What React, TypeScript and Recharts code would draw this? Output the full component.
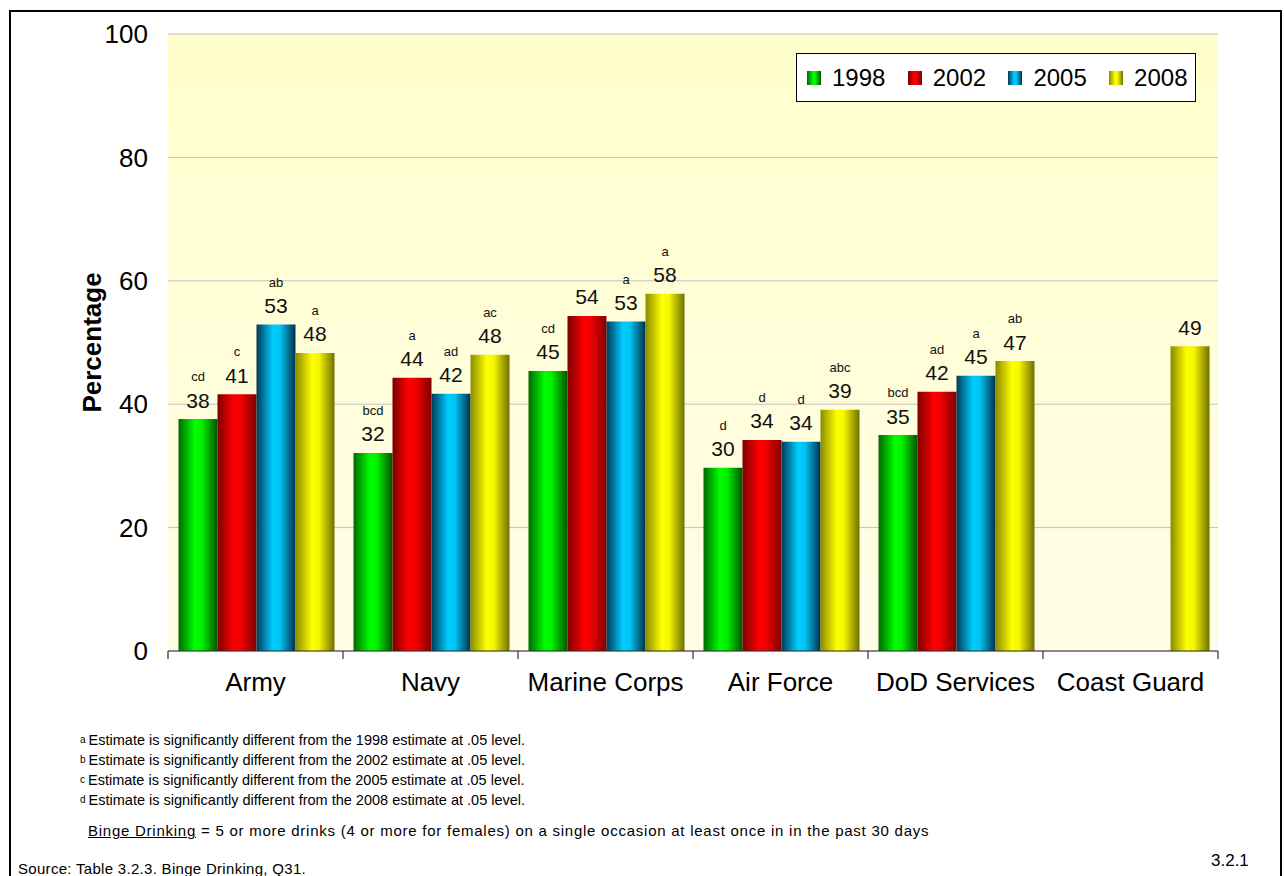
import React from 'react';
import { BarChart, Bar, XAxis, YAxis, CartesianGrid, LabelList, Legend } from 'recharts';

const categories = ['Army', 'Navy', 'Marine Corps', 'Air Force', 'DoD Services', 'Coast Guard'];
const years = ['1998', '2002', '2005', '2008'];

const values1998 = [37.6, 32.1, 45.4, 29.7, 35.0, null];
const values2002 = [41.6, 44.3, 54.3, 34.2, 42.0, null];
const values2005 = [52.9, 41.7, 53.4, 33.9, 44.6, null];
const values2008 = [48.3, 48.0, 57.9, 39.1, 47.0, 49.4];

const labels1998 = ['38', '32', '45', '30', '35', ''];
const labels2002 = ['41', '44', '54', '34', '42', ''];
const labels2005 = ['53', '42', '53', '34', '45', ''];
const labels2008 = ['48', '48', '58', '39', '47', '49'];

const sig1998 = ['cd', 'bcd', 'cd', 'd', 'bcd', ''];
const sig2002 = ['c', 'a', '', 'd', 'ad', ''];
const sig2005 = ['ab', 'ad', 'a', 'd', 'a', ''];
const sig2008 = ['a', 'ac', 'a', 'abc', 'ab', ''];

const yTicks = [0, 20, 40, 60, 80, 100];

const footnotes = [
  { sup: 'a', text: 'Estimate is significantly different from the 1998 estimate at .05 level.' },
  { sup: 'b', text: 'Estimate is significantly different from the 2002 estimate at .05 level.' },
  { sup: 'c', text: 'Estimate is significantly different from the 2005 estimate at .05 level.' },
  { sup: 'd', text: 'Estimate is significantly different from the 2008 estimate at .05 level.' },
];

const FONT = "'Liberation Sans', Arial, Helvetica, sans-serif";

const seriesStyle = [
  { key: 'y1998', id: 'gGreen', stops: ['#006a00', '#00ff00', '#00f000', '#005200'] },
  { key: 'y2002', id: 'gRed', stops: ['#7a0000', '#ff0000', '#f00000', '#800000'] },
  { key: 'y2005', id: 'gBlue', stops: ['#003a55', '#00ccff', '#00c4f4', '#003048'] },
  { key: 'y2008', id: 'gYellow', stops: ['#8a8a00', '#ffff00', '#f6f600', '#707000'] },
];

const data = categories.map((c, i) => ({
  name: c,
  y1998: values1998[i],
  y2002: values2002[i],
  y2005: values2005[i],
  y2008: values2008[i],
}));

const seriesLabels = [labels1998, labels2002, labels2005, labels2008];
const seriesSigs = [sig1998, sig2002, sig2005, sig2008];

const CHART_W = 1284;
const CHART_H = 720;
const MARGIN = { top: 34, right: 66, bottom: 19, left: 0 };
const Y_AXIS_W = 168;
const X_AXIS_H = 50;
const PLOT_W = CHART_W - MARGIN.left - MARGIN.right - Y_AXIS_W;

const makeLabel = (nums: string[], sigs: string[]) => (props: any) => {
  const { x, y, width, index } = props;
  if (index == null || !nums[index] || y == null || isNaN(y)) return null;
  const cx = Number(x) + Number(width) / 2;
  return (
    <g>
      <text x={cx} y={Number(y) - 11.5} textAnchor="middle" fontSize={21} fill="#111" fontFamily={FONT}>
        {nums[index]}
      </text>
      {sigs[index] ? (
        <text x={cx} y={Number(y) - 38} textAnchor="middle" fontSize={13} fill="#111" fontFamily={FONT}>
          {sigs[index]}
        </text>
      ) : null}
    </g>
  );
};

const XTick = (props: any) => {
  const { x, y, payload, index } = props;
  const count = categories.length;
  const band = PLOT_W / count;
  return (
    <g>
      <line x1={x - band / 2} y1={y} x2={x - band / 2} y2={y + 8} stroke="#333" strokeWidth={1.2} />
      {index === count - 1 ? (
        <line x1={x + band / 2} y1={y} x2={x + band / 2} y2={y + 8} stroke="#333" strokeWidth={1.2} />
      ) : null}
      <text x={x} y={y + 40} textAnchor="middle" fontSize={26} fill="#000" fontFamily={FONT}>
        {payload.value}
      </text>
    </g>
  );
};

const YLabel = (props: any) => {
  const vb = props.viewBox || { x: 0, y: MARGIN.top, width: Y_AXIS_W, height: 617 };
  const cx = vb.x + 92;
  const cy = vb.y + vb.height / 2;
  return (
    <text
      x={cx}
      y={cy}
      transform={`rotate(-90, ${cx}, ${cy})`}
      textAnchor="middle"
      dominantBaseline="central"
      fontSize={26}
      fontWeight="bold"
      fill="#000"
      fontFamily={FONT}
    >
      Percentage
    </text>
  );
};

const LegendBox = () => (
  <div
    style={{
      boxSizing: 'border-box',
      width: 400,
      height: 49,
      border: '1px solid #000',
      background: '#fff',
      position: 'relative',
      fontFamily: FONT,
    }}
  >
    {years.map((yr, i) => {
      const s = seriesStyle[i];
      return (
        <div
          key={yr}
          style={{ position: 'absolute', left: 10 + i * 100.7, top: 0, height: 47, display: 'flex', alignItems: 'center' }}
        >
          <div
            style={{
              width: 14,
              height: 14,
              background: `linear-gradient(to right, ${s.stops[0]}, ${s.stops[1]} 45%, ${s.stops[2]} 60%, ${s.stops[3]})`,
            }}
          />
          <span style={{ marginLeft: 11, fontSize: 24, color: '#000', lineHeight: '24px' }}>{yr}</span>
        </div>
      );
    })}
  </div>
);

export default function App() {
  return (
    <div style={{ position: 'absolute', left: 0, top: 0, width: 1284, height: 876, background: '#fff', overflow: 'hidden', fontFamily: FONT }}>
      <svg width={0} height={0} style={{ position: 'absolute' }}>
        <defs>
          <linearGradient id="plotBg" x1="0" y1="0" x2="0" y2="1">
            <stop offset="0%" stopColor="#FFFFCC" />
            <stop offset="100%" stopColor="#FFFDE6" />
          </linearGradient>
          {seriesStyle.map((s) => (
            <linearGradient key={s.id} id={s.id} x1="0" y1="0" x2="1" y2="0">
              <stop offset="0%" stopColor={s.stops[0]} />
              <stop offset="42%" stopColor={s.stops[1]} />
              <stop offset="60%" stopColor={s.stops[2]} />
              <stop offset="100%" stopColor={s.stops[3]} />
            </linearGradient>
          ))}
        </defs>
      </svg>

      <div
        style={{
          position: 'absolute',
          left: 9,
          top: 10,
          width: 1273,
          height: 866,
          boxSizing: 'border-box',
          borderTop: '2px solid #000',
          borderLeft: '2px solid #000',
          borderRight: '2px solid #000',
        }}
      />

      <div style={{ position: 'absolute', left: 0, top: 0 }}>
        <BarChart
          width={CHART_W}
          height={CHART_H}
          data={data}
          margin={MARGIN}
          barCategoryGap="6%"
          barGap={0}
        >
          <CartesianGrid vertical={false} stroke="#C0C0C0" fill="url(#plotBg)" fillOpacity={1} />
          <XAxis
            dataKey="name"
            height={X_AXIS_H}
            tickLine={false}
            tickSize={0}
            tickMargin={0}
            axisLine={{ stroke: '#333', strokeWidth: 1.2 }}
            tick={<XTick />}
            interval={0}
          />
          <YAxis
            width={Y_AXIS_W}
            domain={[0, 100]}
            ticks={yTicks}
            interval={0}
            axisLine={false}
            tickLine={false}
            tickSize={0}
            tickMargin={20}
            tick={{ fontSize: 26, fill: '#000', fontFamily: FONT }}
            label={<YLabel />}
          />
          <Legend
            layout="horizontal"
            verticalAlign="middle"
            align="center"
            wrapperStyle={{ position: 'absolute', left: 796, top: 53, width: 400, height: 49 }}
            content={() => <LegendBox />}
          />
          {seriesStyle.map((s, i) => (
            <Bar key={s.key} dataKey={s.key} fill={`url(#${s.id})`} isAnimationActive={false}>
              <LabelList dataKey={s.key} content={makeLabel(seriesLabels[i], seriesSigs[i])} />
            </Bar>
          ))}
        </BarChart>
      </div>

      {footnotes.map((f, i) => (
        <div
          key={f.sup}
          style={{ position: 'absolute', left: 80, top: 732 + i * 20, fontSize: 14.5, lineHeight: '17px', color: '#000', whiteSpace: 'nowrap' }}
        >
          <span style={{ fontSize: 10, verticalAlign: 'top', position: 'relative', top: -1 }}>{f.sup}</span>
          <span style={{ marginLeft: 3 }}>{f.text}</span>
        </div>
      ))}

      <div style={{ position: 'absolute', left: 88, top: 822, fontSize: 15, lineHeight: '17px', color: '#000', whiteSpace: 'nowrap', letterSpacing: 0.75 }}>
        <span style={{ textDecoration: 'underline' }}>Binge Drinking</span>
        {' = 5 or more drinks (4 or more for females) on a single occasion at least once in in the past 30 days'}
      </div>

      <div style={{ position: 'absolute', left: 18, top: 860, fontSize: 15, lineHeight: '17px', color: '#000', whiteSpace: 'nowrap', letterSpacing: 0.3 }}>
        Source: Table 3.2.3. Binge Drinking, Q31.
      </div>

      <div style={{ position: 'absolute', left: 1211, top: 851, fontSize: 17, lineHeight: '20px', color: '#000', whiteSpace: 'nowrap' }}>
        3.2.1
      </div>
    </div>
  );
}
